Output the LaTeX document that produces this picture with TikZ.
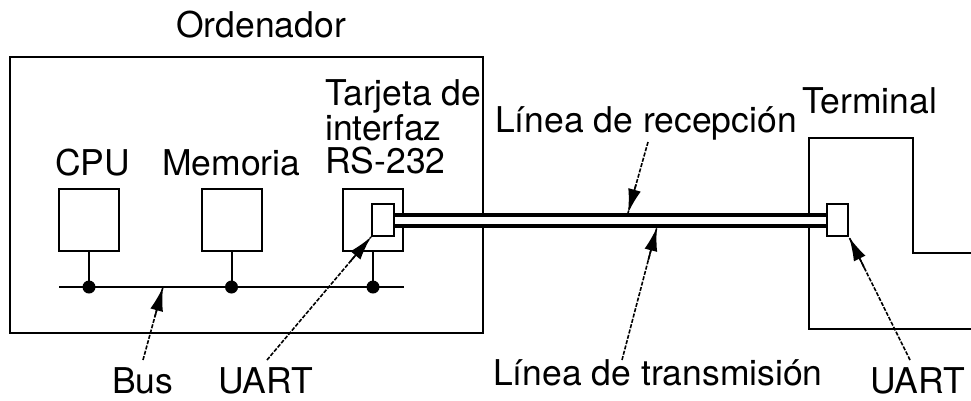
\documentclass[tikz,border=0pt]{standalone}
\usepackage{fontspec}
\setmainfont{TeX Gyre Heros}
\usetikzlibrary{arrows.meta,calc}
\begin{document}
\begin{tikzpicture}[x=1pt,y=-1pt,
  box/.style={draw,line width=2pt,inner sep=0pt,minimum width=60pt,minimum height=62pt},
  uartbox/.style={draw,line width=2pt,inner sep=0pt,fill=white,minimum width=22pt,minimum height=32pt},
  lbl/.style={anchor=base west,inner sep=0pt,font=\fontsize{35.5}{40}\selectfont},
  wire/.style={line width=2pt},
  dot/.style={circle,fill=black,inner sep=0pt,minimum size=13pt},
  pointer/.style={line width=1.6pt,dash pattern=on 4pt off 1.5pt},
  tipline/.style={line width=1.6pt,-{Latex[length=24pt,width=13pt]}},
  cable/.style={line width=4pt,double,double distance=7pt}]
\useasboundingbox (0,0) rectangle (971,400);
% computer
\node[draw,line width=2pt,inner sep=0pt,minimum width=473pt,minimum height=276pt] (comp) at (246.5,195) {};
\node[box] (cpu) at (89,220) {};
\node[box] (mem) at (231.5,220) {};
\node[box] (card) at (373,220) {};
\node[uartbox] (uartL) at (383,220) {};
% terminal
\draw[wire] (971,253) -- (913,253) -- (913,138) -- (809,138) -- (809,329) -- (971,329);
\node[uartbox,minimum width=21pt] (uartR) at (837.5,220) {};
% bus
\coordinate (busL) at (59,287);
\coordinate (busR) at (404,287);
\draw[wire] (busL) -- (busR);
\draw[wire] (cpu.south) -- (cpu.south |- busL) node[dot] (d1) {};
\draw[wire] (mem.south) -- (mem.south |- busL) node[dot] (d2) {};
\draw[wire] (card.south) -- (card.south |- busL) node[dot] (d3) {};
% cable
\draw[cable] (uartL.east) -- (uartR.west);
% labels
\node[lbl] (tord) at (176,37) {Ordenador};
\node[lbl] (tcpu) at (55,175) {CPU};
\node[lbl] (tmem) at (162,175) {Memoria};
\node[lbl] (tcard1) at (325,105) {Tarjeta de};
\node[lbl] (tcard2) at (325,140) {interfaz};
\node[lbl] (tcard3) at (325,173) {RS-232};
\node[lbl] (trec) at (495,132) {Línea de recepción};
\node[lbl] (tterm) at (802,113) {Terminal};
\node[lbl] (tbus) at (112,393) {Bus};
\node[lbl] (tuartL) at (218,393) {UART};
\node[lbl] (ttx) at (493,385) {Línea de transmisión};
\node[lbl] (tuartR) at (870,393) {UART};
% pointers
\coordinate (busTail) at (143,360);
\coordinate (busTip) at (163,287);
\coordinate (uLTail) at (267,360);
\coordinate (uRTail) at (910,360);
\coordinate (recTail) at (648,142);
\coordinate (recTip) at (628,213);
\coordinate (txTail) at (622,360);
\coordinate (txTip) at (657,227);
\draw[pointer] (busTail) -- (busTip);
\draw[pointer] (uLTail) -- (uartL.south west);
\draw[pointer] (uRTail) -- (uartR.south east);
\draw[pointer] (recTail) -- (recTip);
\draw[pointer] (txTail) -- (txTip);
% solid heads
\draw[tipline] ($(busTail)!0.6!(busTip)$) -- (busTip);
\draw[tipline] ($(uLTail)!0.8!(uartL.south west)$) -- (uartL.south west);
\draw[tipline] ($(uRTail)!0.75!(uartR.south east)$) -- (uartR.south east);
\draw[tipline] ($(recTail)!0.6!(recTip)$) -- (recTip);
\draw[tipline] ($(txTail)!0.75!(txTip)$) -- (txTip);
\end{tikzpicture}
\end{document}
